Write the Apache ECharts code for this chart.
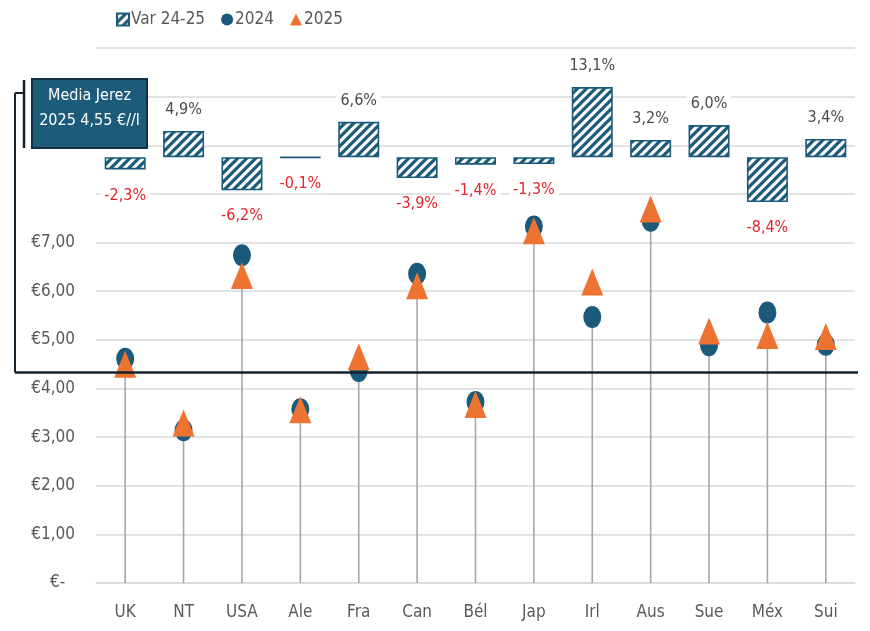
<!DOCTYPE html>
<html>
<head>
<meta charset="utf-8">
<script src="https://cdn.jsdelivr.net/npm/echarts@6/dist/echarts.min.js"></script>
<style>
html,body{margin:0;padding:0;background:#fff;}
#chart{width:870px;height:631px;}
</style>
</head>
<body>
<div id="chart"></div>
<script>
// ---- data ----
const categories = ['UK','NT','USA','Ale','Fra','Can','Bél','Jap','Irl','Aus','Sue','Méx','Sui'];
const price2024 = [4.61, 3.14, 6.74, 3.57, 4.36, 6.36, 3.72, 7.33, 5.47, 7.45, 4.89, 5.56, 4.90];
const price2025 = [4.50, 3.29, 6.32, 3.56, 4.65, 6.11, 3.67, 7.24, 6.19, 7.69, 5.18, 5.09, 5.07];
const varPct    = [-2.3, 4.9, -6.2, -0.1, 6.6, -3.9, -1.4, -1.3, 13.1, 3.2, 6.0, -8.4, 3.4];
const seriesNames = ['Var 24-25', '2024', '2025'];
const mediaLine = 4.33;
const mediaText = ['Media Jerez', '2025 4,55 €//l'];

// ---- styling ----
const FONT = '"Liberation Sans Narrow", "DejaVu Sans Condensed", "Roboto Condensed", sans-serif';
const BLUE = '#1b5a7a';
const ORANGE = '#ee7330';
const GREY_TXT = '#595959';

function hatch() {
  const p = 9;
  const c = document.createElement('canvas');
  c.width = p; c.height = p;
  const g = c.getContext('2d');
  g.fillStyle = '#ffffff';
  g.fillRect(0, 0, p, p);
  g.strokeStyle = BLUE;
  g.lineWidth = 3.2;
  g.beginPath();
  g.moveTo(-p, 2 * p); g.lineTo(2 * p, -p);
  g.moveTo(-2 * p, 2 * p); g.lineTo(p, -p);
  g.moveTo(0, 2 * p); g.lineTo(3 * p, -p);
  g.stroke();
  return c;
}
const hatchFill = { image: hatch(), repeat: 'repeat' };

const fmtEuro = v => v > 7.001 ? '' : (v === 0 ? '€-  ' : '€' + v.toFixed(2).replace('.', ','));
const fmtPct = v => v.toFixed(1).replace('.', ',') + '%';

const chart = echarts.init(document.getElementById('chart'), null, { renderer: 'canvas' });

const option = {
  animation: false,
  backgroundColor: '#ffffff',
  textStyle: { fontFamily: FONT },
  legend: {
    data: [
      { name: seriesNames[0], icon: 'rect' },
      { name: seriesNames[1], icon: 'circle' },
      { name: seriesNames[2], icon: 'triangle' }
    ],
    left: 111, top: 6,
    itemWidth: 12, itemHeight: 12, itemGap: 16,
    textStyle: { fontFamily: FONT, fontSize: 17, color: GREY_TXT, padding: [0, 0, 0, -3] }
  },
  grid: { left: 96, right: 15, top: 48, bottom: 48 },
  xAxis: {
    type: 'category',
    data: categories,
    axisTick: { show: false },
    axisLine: { lineStyle: { color: '#d9d9d9', width: 1.5 } },
    axisLabel: { fontFamily: FONT, fontSize: 17, color: GREY_TXT, margin: 21 }
  },
  yAxis: [
    {
      type: 'value', min: 0, max: 11, interval: 1,
      axisLine: { show: false }, axisTick: { show: false },
      splitLine: { lineStyle: { color: '#d9d9d9', width: 1.5 } },
      axisLabel: { fontFamily: FONT, fontSize: 17, color: GREY_TXT, margin: 21, formatter: fmtEuro }
    },
    {
      type: 'value', min: -79.6, max: 20.4,
      show: false, splitLine: { show: false }
    }
  ],
  series: [
    {
      name: seriesNames[0],
      type: 'bar',
      yAxisIndex: 1,
      barWidth: 41,
      z: 3,
      itemStyle: { color: hatchFill, borderColor: BLUE, borderWidth: 1.6 },
      data: varPct.map(v => ({
        value: v,
        label: {
          show: true,
          position: v < 0 ? 'bottom' : 'top',
          distance: v < 0 ? 17 : 12,
          color: v < 0 ? '#e3242b' : '#4a4a4a',
          fontFamily: FONT, fontSize: 16,
          backgroundColor: '#ffffff',
          padding: [1, 4],
          formatter: p => fmtPct(p.value)
        }
      }))
    },
    {
      name: 'stems',
      type: 'custom',
      z: 2,
      silent: true,
      data: price2024.map((v, i) => [i, v]),
      renderItem: (params, api) => {
        const i = api.value(0);
        const top = api.coord([i, api.value(1)]);
        const base = api.coord([i, 0]);
        return {
          type: 'line',
          shape: { x1: base[0], y1: base[1], x2: top[0], y2: top[1] },
          style: { stroke: '#a6a6a6', lineWidth: 1.6 }
        };
      }
    },
    {
      name: seriesNames[1],
      type: 'scatter',
      symbol: 'circle',
      symbolSize: [18, 22],
      z: 4,
      itemStyle: { color: BLUE, opacity: 1 },
      data: price2024
    },
    {
      name: seriesNames[2],
      type: 'scatter',
      symbol: 'triangle',
      symbolSize: [22, 27],
      z: 5,
      itemStyle: { color: ORANGE, opacity: 1 },
      data: price2025
    }
  ]
};
chart.setOption(option);

// average line + callout, positioned via the axis scale
const yLine = chart.convertToPixel({ yAxisIndex: 0 }, mediaLine);
const LINE_C = '#14222e';
chart.setOption({
  graphic: [
    { type: 'line', z: 10, shape: { x1: 15, y1: yLine, x2: 858, y2: yLine }, style: { stroke: LINE_C, lineWidth: 2.5 } },
    { type: 'line', z: 10, shape: { x1: 15, y1: 93, x2: 15, y2: yLine }, style: { stroke: LINE_C, lineWidth: 2 } },
    { type: 'line', z: 10, shape: { x1: 15, y1: 93, x2: 24, y2: 93 }, style: { stroke: LINE_C, lineWidth: 2 } },
    { type: 'line', z: 10, shape: { x1: 24, y1: 80, x2: 24, y2: 148 }, style: { stroke: LINE_C, lineWidth: 2.5 } },
    {
      type: 'rect', z: 10,
      shape: { x: 32, y: 79, width: 115, height: 69 },
      style: { fill: '#1d5b7b', stroke: '#0f2f44', lineWidth: 2 }
    },
    {
      type: 'text', z: 11,
      style: {
        x: 89.5, y: 96, text: mediaText[0], align: 'center', verticalAlign: 'middle',
        fill: '#ffffff', font: '16px ' + FONT
      }
    },
    {
      type: 'text', z: 11,
      style: {
        x: 89.5, y: 121, text: mediaText[1], align: 'center', verticalAlign: 'middle',
        fill: '#ffffff', font: '16px ' + FONT
      }
    }
  ]
});
</script>
</body>
</html>
